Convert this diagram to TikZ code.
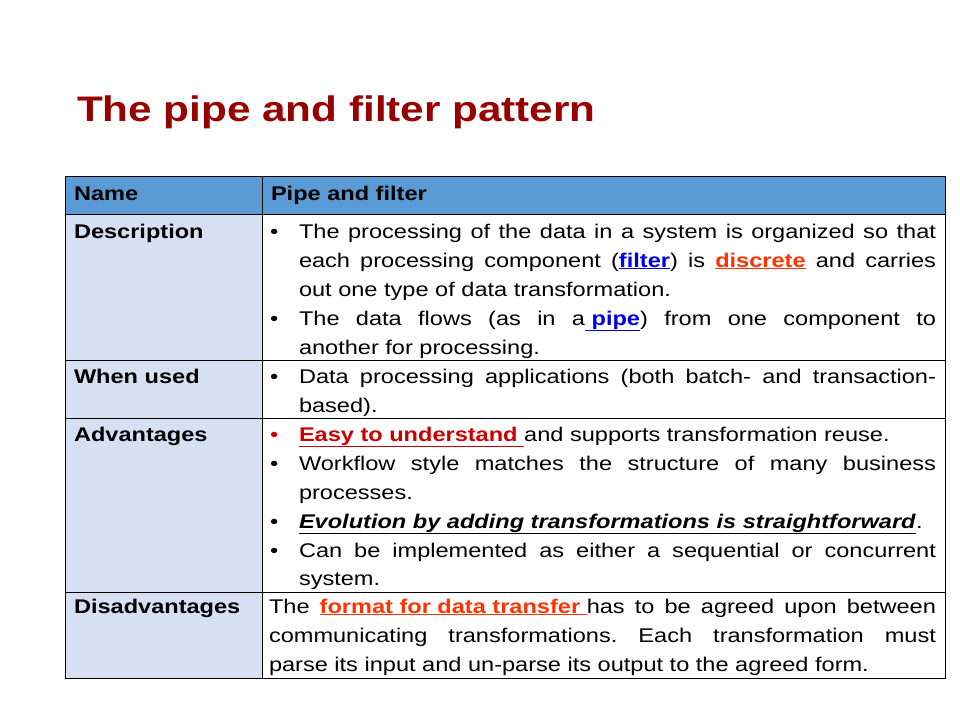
\documentclass[tikz,border=0pt]{standalone}
\usepackage{fontspec}
\setmainfont[FakeStretch=1.19]{Liberation Sans}
\frenchspacing
\definecolor{titlered}{RGB}{153,0,0}
\definecolor{hdr}{RGB}{91,155,213}
\definecolor{lcell}{RGB}{214,224,242}
\definecolor{lblue}{RGB}{0,0,230}
\definecolor{lorange}{RGB}{255,51,0}
\definecolor{lred}{RGB}{204,0,0}
\newcommand\FL[1]{{\parfillskip=0pt #1\par}}
\newcommand\UL[2]{\textcolor{#1}{\underline{\textbf{#2}}}}
\begin{document}
\begin{tikzpicture}[x=1pt,y=-1pt,
  every node/.style={inner sep=0pt,outer sep=0pt,font=\fontsize{19.8}{29}\selectfont\frenchspacing},
  ln/.style={anchor=base west,text width=637pt,align=justify},
  lnw/.style={anchor=base west,text width=667pt,align=justify},
  bul/.style={anchor=base west},
  lab/.style={anchor=base west,font=\fontsize{19.8}{29}\selectfont\bfseries},
  cell/.style={draw=black,line width=0.6pt}]
\useasboundingbox (0,0) rectangle (960,720);
\node[anchor=base west,font=\fontsize{35.5}{44}\selectfont\bfseries,text=titlered] (title) at (77,121) {The pipe and filter pattern};
% cells
\path[cell,fill=hdr] (65,176) rectangle (945,214);
\path[cell,fill=lcell] (65,214) rectangle (262,360);
\path[cell,fill=lcell] (65,360) rectangle (262,418);
\path[cell,fill=lcell] (65,418) rectangle (262,592);
\path[cell,fill=lcell] (65,592) rectangle (262,678);
\path[cell] (262,176) -- (262,678);
\path[cell] (262,214) rectangle (945,360);
\path[cell] (262,360) rectangle (945,418);
\path[cell] (262,418) rectangle (945,592);
\path[cell] (262,592) rectangle (945,678);
% labels
\node[lab] (n1) at (74,200) {Name};
\node[lab] (n2) at (271,200) {Pipe and filter};
\node[lab] (n3) at (74,238) {Description};
\node[lab] (n4) at (74,383) {When used};
\node[lab] (n5) at (74,441) {Advantages};
\node[lab] (n6) at (74,613) {Disadvantages};
% description
\node[bul] (b1) at (270,238) {•};
\node[ln] (d1) at (299,238) {\FL{The processing of the data in a system is organized so that}};
\node[ln] (d2) at (299,267) {\FL{each processing component (\UL{lblue}{filter}) is \UL{lorange}{discrete} and carries}};
\node[ln] (d3) at (299,296) {out one type of data transformation.};
\node[bul] (b2) at (270,325) {•};
\node[ln] (d4) at (299,325) {\FL{The data flows (as in a\UL{lblue}{\ pipe}) from one component to}};
\node[ln] (d5) at (299,354) {another for processing.};
% when used
\node[bul] (b3) at (270,383) {•};
\node[ln] (w1) at (299,383) {\FL{Data processing applications (both batch- and transaction-}};
\node[ln] (w2) at (299,412) {based).};
% advantages
\node[bul,text=lred] (b4) at (270,441) {•};
\node[ln] (a1) at (299,441) {\UL{lred}{Easy to understand }and supports transformation reuse.};
\node[bul] (b5) at (270,470) {•};
\node[ln] (a2) at (299,470) {\FL{Workflow style matches the structure of many business}};
\node[ln] (a3) at (299,499) {processes.};
\node[bul] (b6) at (270,528) {•};
\node[ln] (a4) at (299,528) {\underline{\textbf{\textit{Evolution by adding transformations is straightforward}}}.};
\node[bul] (b7) at (270,557) {•};
\node[ln] (a5) at (299,557) {\FL{Can be implemented as either a sequential or concurrent}};
\node[ln] (a6) at (299,585) {system.};
% disadvantages
\node[lnw] (x1) at (269,613) {\FL{The \UL{lorange}{format for data transfer }has to be agreed upon between}};
\node[lnw] (x2) at (269,642) {\FL{communicating transformations. Each transformation must}};
\node[lnw] (x3) at (269,671) {parse its input and un-parse its output to the agreed form.};
\end{tikzpicture}
\end{document}
